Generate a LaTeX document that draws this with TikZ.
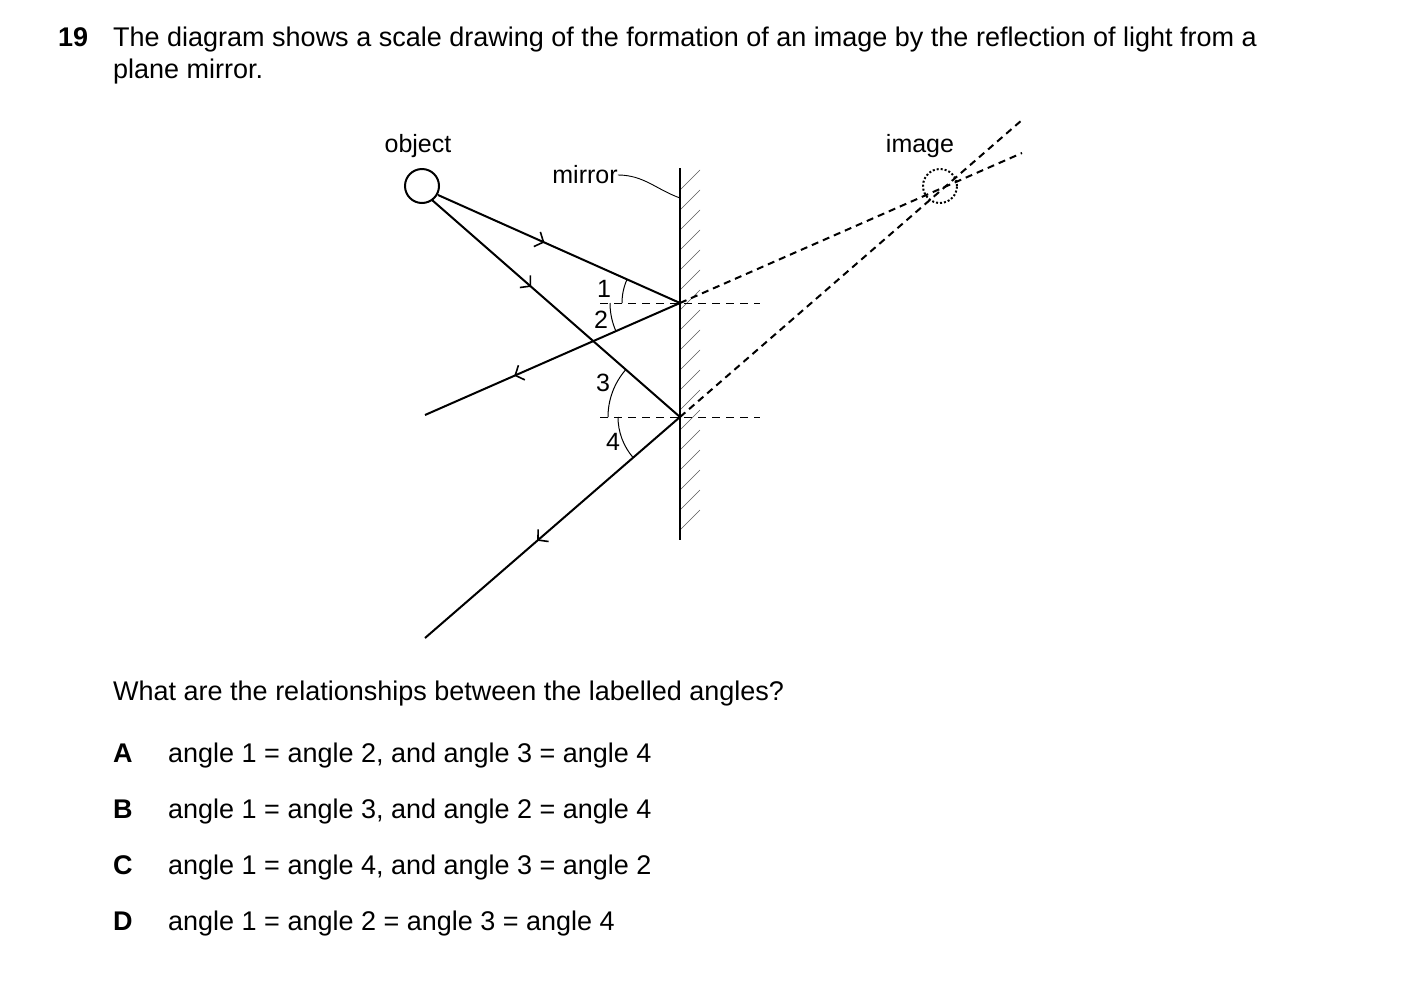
\documentclass[tikz,border=0pt]{standalone}
\usepackage{fontspec}
\setmainfont{Liberation Sans}
\usetikzlibrary{arrows.meta,decorations.markings}
\begin{document}
\begin{tikzpicture}[x=1pt,y=-1pt,
  ray/.style={line width=2pt},
  mk/.style={postaction={decorate},decoration={markings,mark=at position #1 with {\arrow{Straight Barb[length=7pt,width=16pt,line width=1.6pt]}}}},
  dsh/.style={line width=2pt,dash pattern=on 7pt off 5pt},
  norm/.style={line width=1pt,dash pattern=on 8pt off 6pt},
  txt/.style={anchor=base west,inner sep=0pt,font=\fontsize{27}{32}\selectfont},
  lab/.style={inner sep=0pt,font=\fontsize{25}{30}\selectfont}]
\useasboundingbox (0,0) rectangle (1403,986);
% text
\node[txt] (q) at (58,46) {\textbf{19}};
\node[txt] (l1) at (113,46) {The diagram shows a scale drawing of the formation of an image by the reflection of light from a};
\node[txt] (l2) at (113,78) {plane mirror.};
\node[txt] (qq) at (113,700) {What are the relationships between the labelled angles?};
\foreach \L/\t/\y in {A/{angle 1 = angle 2, and angle 3 = angle 4}/762,B/{angle 1 = angle 3, and angle 2 = angle 4}/818,C/{angle 1 = angle 4, and angle 3 = angle 2}/874,D/{angle 1 = angle 2 = angle 3 = angle 4}/930}{
  \node[txt] (L\L) at (113,\y) {\textbf{\L}};
  \node[txt] (T\L) at (168,\y) {\t};
}
% mirror
\coordinate (mt) at (680,168);
\coordinate (mb) at (680,540);
\foreach \y in {190,210,...,540}{\draw[line width=0.6pt,gray!70!black] (680,\y) -- (700,\y-20);}
\draw[line width=2.5pt] (mt) -- (mb);
\coordinate (P1) at (680,303);
\coordinate (P2) at (680,417);
% normals
\draw[norm] (600,303) -- (760,303);
\draw[norm] (600,417) -- (760,417);
% object and image
\node[draw,circle,line width=2pt,minimum size=34pt,inner sep=0pt] (obj) at (422,186) {};
\node[draw,circle,line width=2pt,dotted,minimum size=34pt,inner sep=0pt] (img) at (940,186) {};
\node[lab] (objl) at (418,146) {object};
\node[lab] (imgl) at (920,146) {image};
\node[lab] (mirl) at (585,175) {mirror};
\draw[line width=0.9pt] (mirl.east) to[out=0,in=160] (680,198);
% rays
\coordinate (e1) at (425,415);
\coordinate (e2) at (425,638);
\draw[ray,mk=0.44] (438,195) -- (P1);
\draw[ray,mk=0.4] (432,200) -- (P2);
\draw[ray,mk=0.65] (P1) -- (e1);
\draw[ray,mk=0.56] (P2) -- (e2);
% virtual rays
\coordinate (v1) at (1022,153);
\coordinate (v2) at (1022,120);
\draw[dsh] (P1) -- (v1);
\draw[dsh] (P2) -- (v2);
% angles
\draw[line width=1pt] (P1) ++(180:58) arc[start angle=180,end angle=204,radius=58];
\draw[line width=1pt] (P1) ++(156:70) arc[start angle=156,end angle=180,radius=70];
\draw[line width=1pt] (P2) ++(180:72) arc[start angle=180,end angle=221,radius=72];
\draw[line width=1pt] (P2) ++(139:62) arc[start angle=139,end angle=180,radius=62];
\node[lab] (a1) at (604,289) {1};
\node[lab] (a2) at (601,320) {2};
\node[lab] (a3) at (603,383) {3};
\node[lab] (a4) at (613,442) {4};
\end{tikzpicture}
\end{document}
